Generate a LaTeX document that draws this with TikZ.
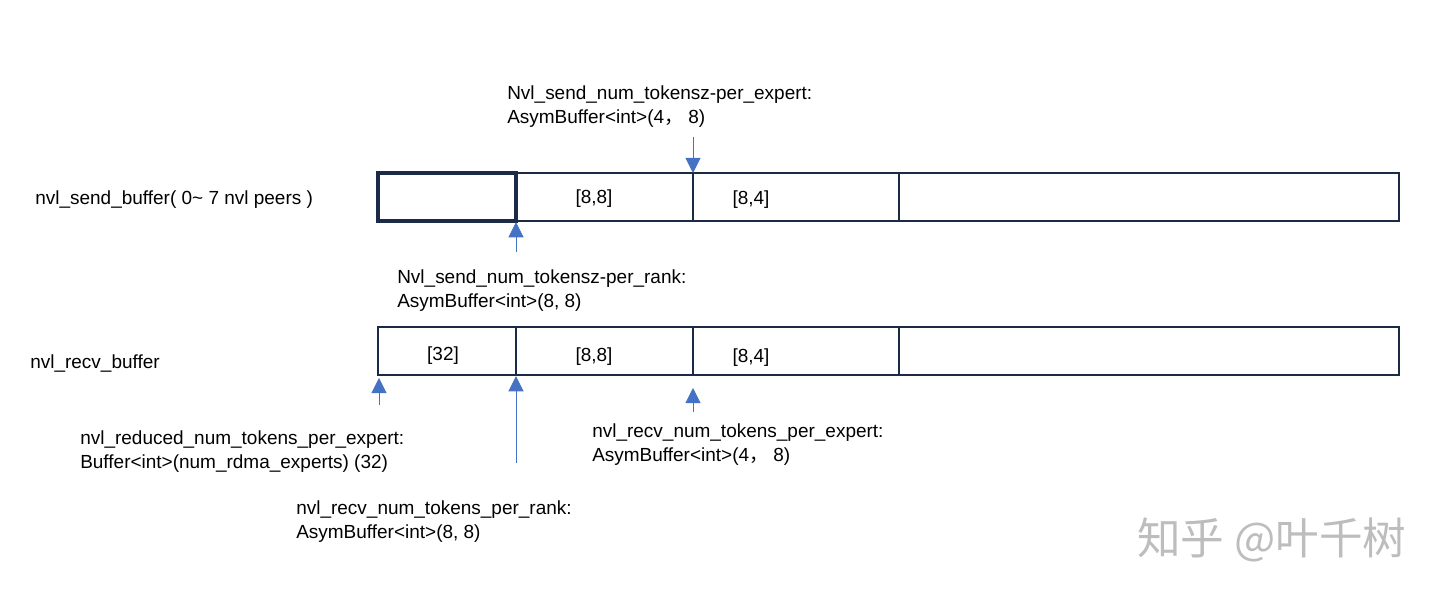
\documentclass[tikz,border=0pt]{standalone}
\usepackage{fontspec}
\setmainfont{Liberation Sans}
\newfontfamily\cjk{Noto Sans CJK SC}
\usepackage{xcolor}
\usetikzlibrary{arrows.meta}
\definecolor{boxline}{HTML}{1B2A47}
\definecolor{arrowblue}{HTML}{4472C4}
\definecolor{markgray}{HTML}{BDBDBD}

\begin{document}
\begin{tikzpicture}[x=0.025cm,y=-0.025cm,
  cell/.style={draw=boxline,line width=2pt},
  up/.style={draw=arrowblue,line width=0.6pt,-{Triangle[length=0.38cm,width=0.38cm]}},
  lbl/.style={anchor=west,inner sep=0pt,align=left,font=\fontsize{13.5}{17}\selectfont},
  val/.style={inner sep=0pt,font=\fontsize{13.5}{17}\selectfont}]
\useasboundingbox (0,0) rectangle (1440,596);

% the two buffers
\foreach \r/\y in {send/173,recv/327}{
  \foreach \i/\x in {0/378,1/516,2/693,3/899,4/1399}{
    \coordinate (\r\i) at (\x,\y);
    \coordinate (\r\i b) at (\x,\y+48);
  }
  \draw[cell] (\r0) rectangle (\r4b);
  \foreach \i in {1,2,3}{
    \draw[cell] (\r\i) -- (\r\i b);
  }
}
\draw[cell,line width=2.8pt] (send0) rectangle (send1b);

\node[lbl] (sendbuf) at (35,200) {nvl\_send\_buffer( 0\textasciitilde\ 7 nvl peers )};
\node[lbl] (recvbuf) at (30,364) {nvl\_recv\_buffer};

\node[val] (s88) at (594,199) {[8,8]};
\node[val] (s84) at (751,200) {[8,4]};
\node[val] (r32) at (443,356) {[32]};
\node[val] (r88) at (594,357) {[8,8]};
\node[val] (r84) at (751,358) {[8,4]};

% labels
\node[lbl] (sendexp) at (507,107) {Nvl\_send\_num\_tokensz-per\_expert:\\AsymBuffer<int>(4{\cjk ，}\ 8)};
\node[lbl] (sendrank) at (397,291) {Nvl\_send\_num\_tokensz-per\_rank:\\AsymBuffer<int>(8, 8)};
\node[lbl] (redexp) at (80,452) {nvl\_reduced\_num\_tokens\_per\_expert:\\Buffer<int>(num\_rdma\_experts) (32)};
\node[lbl] (recvexp) at (592,445) {nvl\_recv\_num\_tokens\_per\_expert:\\AsymBuffer<int>(4{\cjk ，}\ 8)};
\node[lbl] (recvrank) at (296,522) {nvl\_recv\_num\_tokens\_per\_rank:\\AsymBuffer<int>(8, 8)};

% arrows
\coordinate (a1) at (693,137);
\coordinate (a2) at (516,252);
\coordinate (a3) at (379,405);
\coordinate (a3e) at (379,378);
\coordinate (a4) at (516,463);
\coordinate (a5) at (693,412);
\coordinate (a5e) at (693,388);
\draw[up] (a1) -- (send2);
\draw[up] (a2) -- ([yshift=-0.03cm]send1b);
\draw[up] (a3) -- (a3e);
\draw[up] (a4) -- ([yshift=-0.03cm]recv1b);
\draw[up] (a5) -- (a5e);

\node[anchor=west,inner sep=0pt,text=markgray,font=\cjk\fontsize{31}{34}\selectfont] (mark) at (1137,540) {知乎 @叶千树};
\end{tikzpicture}
\end{document}
